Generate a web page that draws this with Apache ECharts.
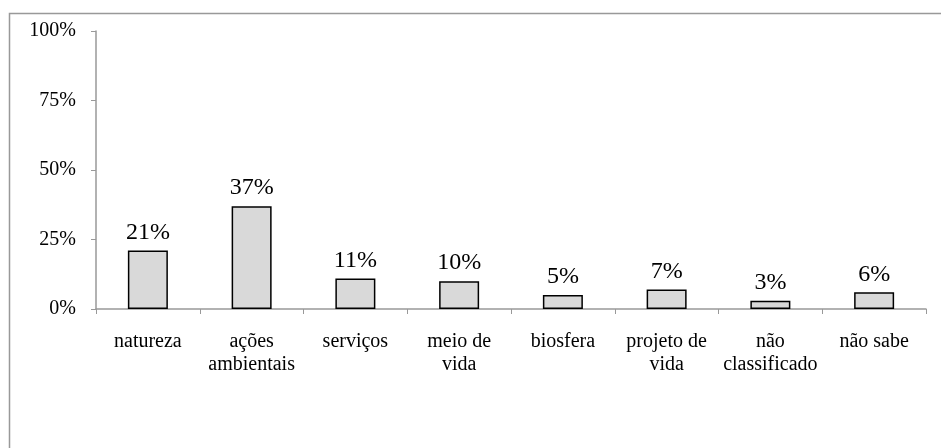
<!DOCTYPE html>
<html>
<head>
<meta charset="utf-8">
<script src="https://cdn.jsdelivr.net/npm/echarts@6/dist/echarts.min.js"></script>
<style>html,body{margin:0;padding:0;background:#fff}#c{width:941px;height:448px}</style>
</head>
<body>
<div id="c"></div>
<script>
const categories = ['natureza', 'ações\nambientais', 'serviços', 'meio de\nvida', 'biosfera', 'projeto de\nvida', 'não\nclassificado', 'não sabe'];
const values = [21, 37, 11, 10, 5, 7, 3, 6];
const yTicks = [0, 25, 50, 75, 100];

const chart = echarts.init(document.getElementById('c'));
const serif = '"Liberation Serif", "DejaVu Serif", serif';
chart.setOption({
  animation: false,
  backgroundColor: '#fff',
  graphic: [{
    type: 'rect',
    shape: { x: 9.5, y: 13.5, width: 960, height: 460 },
    style: { fill: 'none', stroke: '#999', lineWidth: 1.5 },
    silent: true
  }],
  grid: { left: 96, right: 15, top: 31, bottom: 139 },
  xAxis: {
    type: 'category',
    data: categories,
    boundaryGap: true,
    axisLine: { lineStyle: { color: '#999', width: 1.5 } },
    axisTick: { show: true, length: 5, lineStyle: { color: '#999' }, alignWithLabel: false },
    axisLabel: { fontFamily: serif, fontSize: 20, color: '#000', margin: 21, lineHeight: 23, interval: 0 }
  },
  yAxis: {
    type: 'value',
    min: 0, max: 100, interval: 25,
    splitLine: { show: false },
    axisLine: { show: true, lineStyle: { color: '#999', width: 1.5 } },
    axisTick: { show: true, length: 5, lineStyle: { color: '#999' } },
    axisLabel: { fontFamily: serif, fontSize: 20, color: '#000', margin: 20,
      formatter: v => yTicks.includes(v) ? v + '%' : '' }
  },
  series: [{
    type: 'bar',
    data: values,
    barWidth: 40,
    itemStyle: { color: '#d9d9d9', borderColor: '#000', borderWidth: 1.5 },
    label: { show: true, position: 'top', distance: 6, fontFamily: serif, fontSize: 24, color: '#000', formatter: p => p.value + '%' }
  }]
});
</script>
</body>
</html>
